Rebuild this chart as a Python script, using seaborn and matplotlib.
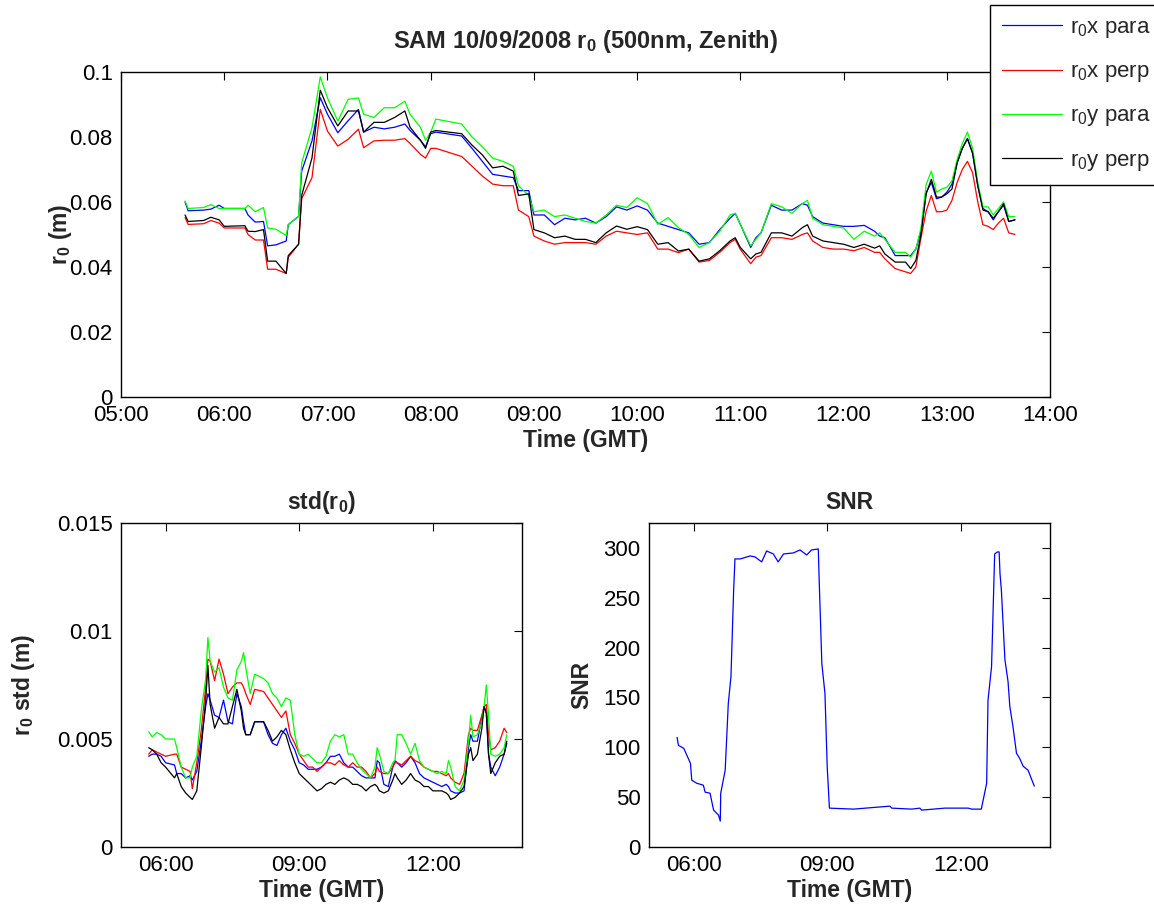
import numpy as np
import pandas as pd
import matplotlib
matplotlib.use("Agg")
import matplotlib.pyplot as plt
import seaborn as sns

# ---- top panel: r0 (m) vs time (decimal hours GMT) ----
t_r0 = [5.62, 5.65, 5.8, 5.87, 5.95, 6.0, 6.2, 6.23, 6.3, 6.38,
        6.42, 6.5, 6.6, 6.62, 6.72, 6.75, 6.85, 6.93, 7.0, 7.1,
        7.2, 7.3, 7.35, 7.45, 7.55, 7.65, 7.75, 7.8, 7.9, 7.95,
        8.0, 8.05, 8.3, 8.4, 8.5, 8.6, 8.7, 8.8, 8.85, 8.95,
        9.0, 9.1, 9.2, 9.3, 9.4, 9.5, 9.6, 9.7, 9.8, 9.9,
        10.0, 10.1, 10.2, 10.3, 10.4, 10.5, 10.6, 10.7, 10.8, 10.9,
        10.95, 11.0, 11.1, 11.15, 11.2, 11.3, 11.4, 11.5, 11.6, 11.65,
        11.7, 11.8, 11.9, 12.0, 12.1, 12.2, 12.3, 12.35, 12.4, 12.5,
        12.6, 12.65, 12.7, 12.75, 12.8, 12.85, 12.9, 12.95, 13.0, 13.05,
        13.1, 13.15, 13.2, 13.25, 13.3, 13.35, 13.4, 13.45, 13.5, 13.55,
        13.6, 13.66]

r0x_para = [0.0600, 0.0573, 0.0575, 0.0578, 0.0590, 0.0580, 0.0580, 0.0560, 0.0538, 0.0540,
            0.0465, 0.0468, 0.0480, 0.0530, 0.0556, 0.0695, 0.0788, 0.0921, 0.0870, 0.0813,
            0.0850, 0.0885, 0.0815, 0.0830, 0.0825, 0.0830, 0.0840, 0.0820, 0.0790, 0.0770,
            0.0810, 0.0815, 0.0803, 0.0765, 0.0725, 0.0685, 0.0680, 0.0675, 0.0635, 0.0635,
            0.0560, 0.0560, 0.0530, 0.0550, 0.0545, 0.0550, 0.0535, 0.0555, 0.0585, 0.0575,
            0.0588, 0.0575, 0.0535, 0.0525, 0.0515, 0.0505, 0.0470, 0.0475, 0.0515, 0.0550,
            0.0565, 0.0531, 0.0460, 0.0490, 0.0505, 0.0590, 0.0575, 0.0575, 0.0595, 0.0590,
            0.0555, 0.0535, 0.0530, 0.0525, 0.0525, 0.0528, 0.0510, 0.0495, 0.0490, 0.0435,
            0.0435, 0.0435, 0.0455, 0.0510, 0.0629, 0.0660, 0.0610, 0.0615, 0.0630, 0.0655,
            0.0720, 0.0765, 0.0795, 0.0750, 0.0650, 0.0580, 0.0570, 0.0545, 0.0570, 0.0590,
            0.0540, 0.0545]

r0x_perp = [0.0552, 0.0531, 0.0533, 0.0543, 0.0535, 0.0520, 0.0520, 0.0500, 0.0483, 0.0483,
            0.0393, 0.0393, 0.0380, 0.0430, 0.0470, 0.0610, 0.0675, 0.0885, 0.0818, 0.0772,
            0.0793, 0.0824, 0.0767, 0.0788, 0.0790, 0.0790, 0.0795, 0.0780, 0.0747, 0.0735,
            0.0765, 0.0765, 0.0740, 0.0710, 0.0680, 0.0655, 0.0650, 0.0650, 0.0575, 0.0555,
            0.0495, 0.0480, 0.0470, 0.0475, 0.0475, 0.0475, 0.0470, 0.0495, 0.0510, 0.0505,
            0.0500, 0.0505, 0.0455, 0.0455, 0.0444, 0.0455, 0.0415, 0.0420, 0.0445, 0.0475,
            0.0485, 0.0454, 0.0410, 0.0430, 0.0435, 0.0490, 0.0490, 0.0485, 0.0500, 0.0505,
            0.0480, 0.0460, 0.0455, 0.0455, 0.0450, 0.0460, 0.0445, 0.0445, 0.0425, 0.0395,
            0.0385, 0.0380, 0.0400, 0.0490, 0.0572, 0.0620, 0.0570, 0.0570, 0.0575, 0.0605,
            0.0660, 0.0700, 0.0725, 0.0690, 0.0600, 0.0530, 0.0525, 0.0515, 0.0535, 0.0550,
            0.0505, 0.0500]

r0y_para = [0.0603, 0.0580, 0.0583, 0.0592, 0.0580, 0.0580, 0.0580, 0.0590, 0.0570, 0.0583,
            0.0520, 0.0516, 0.0497, 0.0530, 0.0556, 0.0720, 0.0829, 0.0985, 0.0920, 0.0849,
            0.0916, 0.0920, 0.0870, 0.0860, 0.0890, 0.0890, 0.0910, 0.0870, 0.0830, 0.0790,
            0.0815, 0.0855, 0.0840, 0.0800, 0.0770, 0.0735, 0.0725, 0.0710, 0.0650, 0.0620,
            0.0570, 0.0575, 0.0555, 0.0560, 0.0550, 0.0540, 0.0535, 0.0560, 0.0590, 0.0583,
            0.0613, 0.0595, 0.0531, 0.0552, 0.0521, 0.0500, 0.0460, 0.0475, 0.0510, 0.0560,
            0.0565, 0.0531, 0.0465, 0.0485, 0.0505, 0.0595, 0.0585, 0.0565, 0.0595, 0.0605,
            0.0550, 0.0530, 0.0525, 0.0520, 0.0485, 0.0510, 0.0495, 0.0505, 0.0485, 0.0445,
            0.0445, 0.0430, 0.0455, 0.0520, 0.0654, 0.0695, 0.0630, 0.0640, 0.0645, 0.0665,
            0.0730, 0.0780, 0.0815, 0.0765, 0.0660, 0.0585, 0.0585, 0.0560, 0.0580, 0.0600,
            0.0555, 0.0555]

r0y_perp = [0.0560, 0.0540, 0.0543, 0.0553, 0.0545, 0.0525, 0.0527, 0.0510, 0.0509, 0.0515,
            0.0418, 0.0418, 0.0380, 0.0435, 0.0470, 0.0620, 0.0736, 0.0944, 0.0890, 0.0834,
            0.0880, 0.0880, 0.0815, 0.0845, 0.0845, 0.0860, 0.0880, 0.0830, 0.0790, 0.0765,
            0.0815, 0.0820, 0.0810, 0.0775, 0.0745, 0.0705, 0.0710, 0.0695, 0.0620, 0.0625,
            0.0515, 0.0505, 0.0490, 0.0495, 0.0485, 0.0485, 0.0475, 0.0505, 0.0526, 0.0516,
            0.0524, 0.0515, 0.0470, 0.0475, 0.0449, 0.0455, 0.0418, 0.0425, 0.0450, 0.0480,
            0.0490, 0.0460, 0.0425, 0.0440, 0.0445, 0.0505, 0.0505, 0.0495, 0.0521, 0.0530,
            0.0495, 0.0480, 0.0475, 0.0470, 0.0460, 0.0470, 0.0458, 0.0465, 0.0440, 0.0415,
            0.0415, 0.0395, 0.0420, 0.0500, 0.0625, 0.0670, 0.0615, 0.0615, 0.0625, 0.0640,
            0.0720, 0.0765, 0.0795, 0.0750, 0.0650, 0.0575, 0.0570, 0.0550, 0.0570, 0.0595,
            0.0540, 0.0545]

# ---- bottom left: std(r0), values in units of 1e-3 m ----
t_std = [5.62, 5.7, 5.8, 5.9, 6.0, 6.2, 6.25, 6.35, 6.45, 6.55,
         6.6, 6.7, 6.8, 6.9, 6.95, 7.0, 7.1, 7.2, 7.3, 7.4,
         7.5, 7.6, 7.7, 7.75, 7.8, 7.9, 8.0, 8.2, 8.3, 8.4,
         8.5, 8.6, 8.7, 8.8, 8.9, 9.0, 9.1, 9.2, 9.3, 9.4,
         9.5, 9.6, 9.7, 9.8, 9.9, 10.0, 10.1, 10.2, 10.3, 10.4,
         10.5, 10.6, 10.7, 10.75, 10.8, 10.9, 11.0, 11.1, 11.15, 11.2,
         11.3, 11.4, 11.5, 11.6, 11.7, 11.8, 11.9, 12.0, 12.1, 12.2,
         12.3, 12.35, 12.4, 12.5, 12.6, 12.7, 12.8, 12.85, 12.9, 13.0,
         13.1, 13.15, 13.2, 13.25, 13.3, 13.4, 13.5, 13.6, 13.66]

std_x_para = [4.2, 4.3, 4.3, 4.2, 3.9, 3.8, 3.4, 3.4, 3.2, 3.3,
              3.1, 3.5, 4.9, 6.5, 7.1, 6.8, 6.1, 6.0, 6.8, 5.8,
              5.7, 7.1, 6.5, 5.8, 5.2, 5.2, 5.8, 5.8, 5.2, 4.8,
              4.7, 5.2, 5.5, 4.9, 4.5, 3.9, 3.8, 3.6, 3.6, 3.6,
              3.7, 3.9, 4.2, 4.2, 4.3, 3.9, 3.7, 3.7, 3.5, 3.3,
              3.2, 3.2, 3.2, 4.0, 3.9, 2.9, 2.8, 3.7, 4.0, 3.9,
              3.7, 3.9, 4.2, 3.9, 3.4, 3.2, 3.1, 3.0, 2.9, 2.8,
              2.9, 2.8, 2.6, 2.5, 2.5, 2.6, 4.6, 5.2, 4.9, 4.9,
              6.0, 6.5, 6.2, 4.3, 3.7, 3.3, 3.7, 4.3, 4.8]

std_x_perp = [4.3, 4.5, 4.4, 4.3, 4.2, 4.3, 4.3, 3.7, 3.6, 3.5,
              2.7, 3.9, 5.4, 7.4, 8.7, 8.6, 7.7, 8.7, 8.0, 7.1,
              7.4, 7.6, 7.6, 7.4, 7.1, 6.6, 7.3, 7.2, 6.9, 6.6,
              6.3, 6.0, 6.3, 5.2, 4.8, 4.3, 4.0, 3.7, 3.7, 3.5,
              3.7, 3.9, 3.9, 3.8, 4.0, 3.8, 3.7, 3.9, 3.7, 3.7,
              3.5, 3.2, 3.4, 3.7, 3.5, 3.4, 3.4, 3.7, 3.9, 3.9,
              3.8, 4.0, 4.2, 4.0, 3.9, 3.7, 3.6, 3.5, 3.5, 3.4,
              3.3, 3.4, 3.2, 3.0, 2.9, 3.4, 5.2, 5.5, 5.4, 5.4,
              6.1, 6.5, 6.6, 5.2, 4.5, 4.6, 4.9, 5.5, 5.3]

std_y_para = [5.34, 5.1, 5.3, 5.2, 5.0, 5.0, 4.6, 3.7, 3.2, 3.2,
              3.7, 4.2, 6.3, 7.8, 9.7, 8.6, 8.1, 8.3, 7.4, 6.9,
              6.8, 8.2, 8.6, 9.0, 8.3, 7.1, 8.0, 7.8, 7.6, 7.1,
              6.9, 6.5, 6.9, 6.8, 5.2, 4.3, 4.2, 4.3, 4.1, 3.9,
              3.9, 4.2, 4.9, 5.2, 5.1, 5.2, 4.3, 4.3, 3.9, 3.6,
              3.4, 3.2, 3.7, 4.6, 4.3, 3.5, 3.4, 3.9, 4.0, 5.2,
              5.2, 4.8, 4.3, 4.8, 4.0, 3.7, 3.6, 3.5, 3.4, 3.5,
              3.4, 4.0, 3.7, 2.8, 2.6, 3.1, 4.9, 6.1, 5.1, 5.2,
              5.8, 6.5, 7.5, 6.1, 4.3, 4.2, 4.3, 4.6, 5.2]

std_y_perp = [4.6, 4.5, 4.3, 3.9, 3.7, 3.2, 3.4, 2.8, 2.5, 2.3,
              2.2, 2.6, 4.6, 6.8, 8.4, 6.6, 5.5, 6.0, 5.7, 5.7,
              6.5, 7.3, 6.3, 5.5, 5.2, 5.2, 5.8, 5.8, 5.4, 4.9,
              5.1, 5.4, 5.2, 4.5, 3.9, 3.4, 3.2, 3.0, 2.8, 2.6,
              2.7, 2.9, 3.0, 2.9, 3.1, 3.2, 3.1, 2.9, 2.9, 2.8,
              2.6, 2.8, 2.9, 2.8, 2.6, 2.5, 2.6, 3.1, 3.4, 3.2,
              2.9, 3.1, 3.4, 3.1, 3.0, 2.8, 2.8, 2.6, 2.6, 2.6,
              2.5, 2.4, 2.2, 2.3, 2.5, 2.8, 4.3, 4.6, 4.0, 4.3,
              5.5, 6.5, 6.2, 4.3, 3.4, 3.9, 4.2, 4.3, 4.9]

# ---- bottom right: SNR ----
t_snr = [5.63, 5.66, 5.78, 5.93, 5.96, 6.07, 6.22, 6.26, 6.37, 6.45,
         6.56, 6.6, 6.61, 6.71, 6.78, 6.84, 6.9, 6.93, 7.05, 7.27,
         7.38, 7.53, 7.64, 7.79, 7.9, 8.02, 8.24, 8.39, 8.54, 8.65,
         8.8, 8.82, 8.88, 8.95, 9.0, 9.05, 9.59, 10.41, 10.45, 10.9,
         11.08, 11.12, 11.64, 12.17, 12.24, 12.46, 12.58, 12.61, 12.69, 12.76,
         12.82, 12.86, 12.88, 12.91, 12.99, 13.06, 13.1, 13.17, 13.25, 13.32,
         13.4, 13.51, 13.65]
snr = [110, 102, 99, 84, 67, 64, 62, 55, 54, 37,
       32, 26, 54, 77, 144, 171, 258, 289, 289, 292,
       291, 286, 297, 294, 286, 294, 295, 298, 293, 298,
       299, 268, 184, 154, 81, 39, 38, 41, 39, 38,
       39, 37, 39, 39, 38, 38, 64, 147, 181, 294,
       296, 296, 274, 258, 188, 166, 141, 121, 94, 89,
       81, 77, 61]

labels = [r"$\mathregular{r_0}$x para", r"$\mathregular{r_0}$x perp",
          r"$\mathregular{r_0}$y para", r"$\mathregular{r_0}$y perp"]
colors = ["#0000ff", "#ff0000", "#00ff00", "#000000"]
palette = dict(zip(labels, colors))

sns.set_style("white")
plt.rcParams['font.family'] = ['Liberation Sans', 'DejaVu Sans']
plt.rcParams['mathtext.fontset'] = 'custom'
plt.rcParams['mathtext.rm'] = 'Liberation Sans'
plt.rcParams['mathtext.it'] = 'Liberation Sans:italic'
plt.rcParams['mathtext.bf'] = 'Liberation Sans:bold'

TICK_FS = 16
LAB_FS = 16.5


def long_df(t, series):
    frames = [pd.DataFrame({"t": t, "v": s, "serie": lab}) for lab, s in zip(labels, series)]
    return pd.concat(frames, ignore_index=True)


def hhmm(hours):
    return ["%02d:00" % h for h in hours]


def style_axes(ax):
    for sp in ax.spines.values():
        sp.set_color("black")
        sp.set_linewidth(1.0)
    ax.tick_params(direction="in", top=True, right=True, length=6, width=0.8,
                   labelsize=TICK_FS, colors="black", pad=6)


fig = plt.figure(figsize=(11.54, 9.09), dpi=100)
ax1 = fig.add_axes([0.1049, 0.5633, 0.805, 0.3575])
ax2 = fig.add_axes([0.1049, 0.0682, 0.3474, 0.3564])
ax3 = fig.add_axes([0.5624, 0.0682, 0.3474, 0.3564])

# top
df_top = long_df(t_r0, [r0x_para, r0x_perp, r0y_para, r0y_perp])
sns.lineplot(data=df_top, x="t", y="v", hue="serie", palette=palette,
             estimator=None, linewidth=0.9, ax=ax1)
handles, leg_labels = ax1.get_legend_handles_labels()
ax1.get_legend().remove()
ax1.set_xlim(5, 14)
ax1.set_ylim(0, 0.1)
ax1.set_xticks(range(5, 15))
ax1.set_xticklabels(hhmm(range(5, 15)))
ax1.set_yticks([0, 0.02, 0.04, 0.06, 0.08, 0.1])
ax1.set_yticklabels(["0", "0.02", "0.04", "0.06", "0.08", "0.1"])
ax1.set_xlabel("Time (GMT)", fontsize=LAB_FS, fontweight="bold", labelpad=2)
ax1.set_ylabel(r"$\mathbf{r_0}$ (m)", fontsize=LAB_FS, fontweight="bold")
ax1.yaxis.set_label_coords(-0.051, 0.5)
ax1.set_title(r"SAM 10/09/2008 $\mathbf{r_0}$ (500nm, Zenith)",
              fontsize=17, fontweight="bold", pad=17)
style_axes(ax1)

fig.legend(handles, leg_labels, loc="upper left",
           bbox_to_anchor=(990 / 1154, 1 - 5 / 909), borderaxespad=0,
           fontsize=TICK_FS, frameon=True, fancybox=False, edgecolor="black",
           framealpha=1, handlelength=2.7, labelspacing=0.95, borderpad=0.55,
           handletextpad=0.35)
fig.legends[0].get_frame().set_linewidth(1.0)

# bottom left
df_std = long_df(t_std, [np.array(std_x_para) * 1e-3, np.array(std_x_perp) * 1e-3,
                         np.array(std_y_para) * 1e-3, np.array(std_y_perp) * 1e-3])
sns.lineplot(data=df_std, x="t", y="v", hue="serie", palette=palette,
             estimator=None, linewidth=0.9, ax=ax2, legend=False)
ax2.set_xlim(5, 14)
ax2.set_ylim(0, 0.015)
ax2.set_xticks([6, 9, 12])
ax2.set_xticklabels(hhmm([6, 9, 12]))
ax2.set_yticks([0, 0.005, 0.01, 0.015])
ax2.set_yticklabels(["0", "0.005", "0.01", "0.015"])
ax2.set_xlabel("Time (GMT)", fontsize=LAB_FS, fontweight="bold", labelpad=2)
ax2.set_ylabel(r"$\mathbf{r_0}$ std (m)", fontsize=LAB_FS, fontweight="bold")
ax2.yaxis.set_label_coords(-0.21, 0.5)
ax2.set_title(r"std($\mathbf{r_0}$)", fontsize=LAB_FS, fontweight="bold", pad=10)
style_axes(ax2)

# bottom right
sns.lineplot(x=t_snr, y=snr, color="#0000ff", linewidth=0.9, estimator=None, ax=ax3)
ax3.set_xlim(5, 14)
ax3.set_ylim(0, 325)
ax3.set_xticks([6, 9, 12])
ax3.set_xticklabels(hhmm([6, 9, 12]))
ax3.set_yticks(range(0, 301, 50))
ax3.set_xlabel("Time (GMT)", fontsize=LAB_FS, fontweight="bold", labelpad=2)
ax3.set_ylabel("SNR", fontsize=LAB_FS, fontweight="bold")
ax3.yaxis.set_label_coords(-0.138, 0.5)
ax3.set_title("SNR", fontsize=LAB_FS, fontweight="bold", pad=10)
style_axes(ax3)

fig.savefig("out.png", dpi=100)
